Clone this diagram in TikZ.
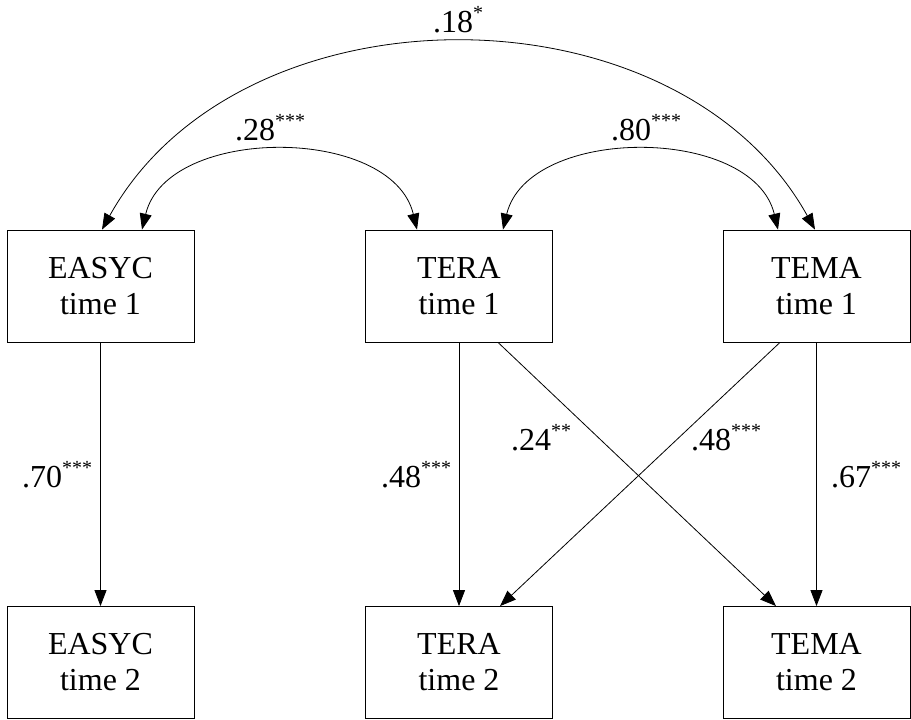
\documentclass[tikz,border=0pt]{standalone}
\usepackage{fontspec}
\setmainfont{Liberation Serif}
\usetikzlibrary{arrows.meta}
\newcommand{\sigstar}[1]{\raisebox{13pt}{\fontsize{20}{20}\selectfont #1}}
\begin{document}
\begin{tikzpicture}[x=1pt,y=-1pt,
  box/.style={draw, line width=0.8pt, minimum width=187pt, minimum height=112pt, inner sep=0pt, align=center, font=\fontsize{32}{36}\selectfont},
  arr/.style={line width=0.8pt, -{Triangle[length=16pt,width=12pt]}},
  biarr/.style={line width=0.8pt, {Triangle[length=16pt,width=12pt]}-{Triangle[length=16pt,width=12pt]}},
  lbl/.style={anchor=base west, inner sep=0pt, font=\fontsize{32}{36}\selectfont}]
\useasboundingbox (0,0) rectangle (911,720);
% boxes
\node[box] (e1) at (100.5,286) {EASYC\\time 1};
\node[box] (t1) at (459,286) {TERA\\time 1};
\node[box] (m1) at (816.5,286) {TEMA\\time 1};
\node[box] (e2) at (100.5,662.5) {EASYC\\time 2};
\node[box] (t2) at (459,662.5) {TERA\\time 2};
\node[box] (m2) at (816.5,662.5) {TEMA\\time 2};
% covariances
\draw[biarr] ([xshift=1.5pt]e1.north) .. controls (240,-19) and (677,-19) .. ([xshift=-1.5pt]m1.north);
\draw[biarr] ([xshift=41.5pt]e1.north) .. controls (167,125) and (392,125) .. ([xshift=-42pt]t1.north);
\draw[biarr] ([xshift=44pt]t1.north) .. controls (528,125) and (753,125) .. ([xshift=-38.5pt]m1.north);
% paths
\draw[arr] (e1.south) -- (e2.north);
\draw[arr] (t1.south) -- (t2.north);
\draw[arr] (m1.south) -- (m2.north);
\draw[arr] ([xshift=39pt]t1.south) -- ([xshift=-40.5pt]m2.north);
\draw[arr] ([xshift=-36.5pt]m1.south) -- ([xshift=41pt]t2.north);
% labels
\node[lbl] (l18) at (433,32) {.18\sigstar{*}};
\node[lbl] (l28) at (235,140) {.28\sigstar{***}};
\node[lbl] (l80) at (611,140) {.80\sigstar{***}};
\node[lbl] (l70) at (22,487) {.70\sigstar{***}};
\node[lbl] (l48a) at (381,487) {.48\sigstar{***}};
\node[lbl] (l24) at (511,450) {.24\sigstar{**}};
\node[lbl] (l48b) at (691,450) {.48\sigstar{***}};
\node[lbl] (l67) at (831,487) {.67\sigstar{***}};
\end{tikzpicture}
\end{document}
